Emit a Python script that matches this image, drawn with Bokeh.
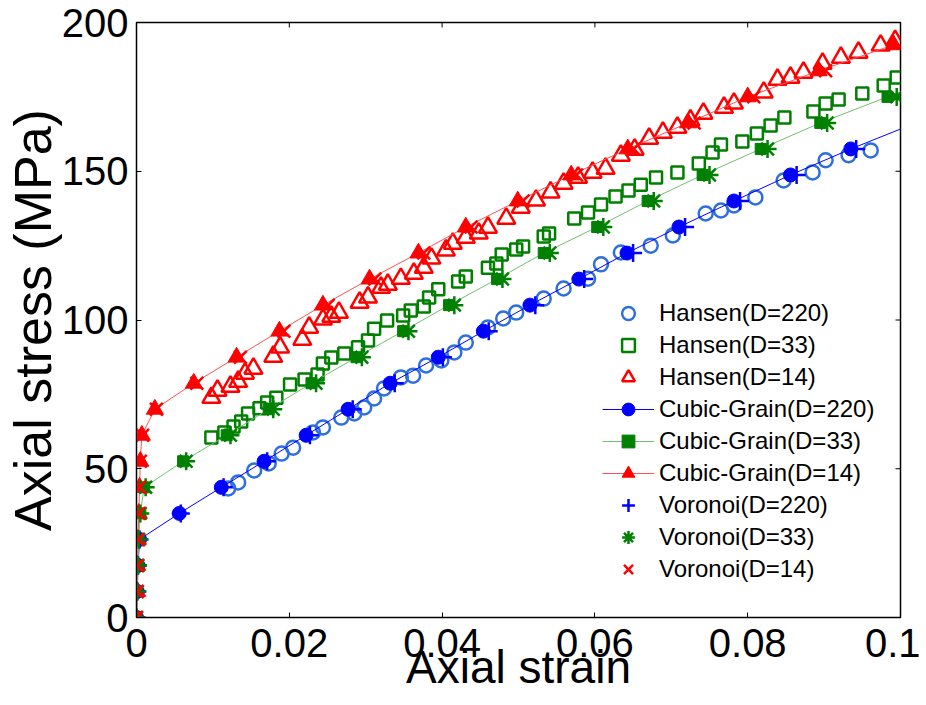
from bokeh.plotting import figure
from bokeh.models import Range1d, FixedTicker, NumeralTickFormatter
from bokeh.embed import file_html
from bokeh.resources import INLINE

# ---------------- data ----------------
# Hansen experimental data
hansen220_strain = [0.0120, 0.0133, 0.0154, 0.0173, 0.0190, 0.0205, 0.0231, 0.0244, 0.0268, 0.0285,
                    0.0298, 0.0311, 0.0324, 0.0346, 0.0362, 0.0379, 0.0399, 0.0416, 0.0431, 0.0460,
                    0.0480, 0.0497, 0.0533, 0.0559, 0.0591, 0.0608, 0.0634, 0.0673, 0.0702, 0.0745,
                    0.0765, 0.0782, 0.0810, 0.0847, 0.0885, 0.0902, 0.0932, 0.0961]
hansen220_stress = [43.4, 45.4, 49.4, 51.8, 55.1, 57.1, 62.2, 63.9, 67.2, 68.6,
                    70.6, 73.6, 77.0, 80.7, 81.3, 84.7, 86.4, 89.1, 92.4, 97.5,
                    100.5, 102.5, 107.2, 110.6, 113.9, 118.7, 122.7, 125.0, 128.4, 135.8,
                    136.8, 138.5, 141.2, 146.9, 149.6, 153.7, 155.4, 157.0]

hansen33_strain = [0.0098, 0.0115, 0.0127, 0.0137, 0.0146, 0.0161, 0.0171, 0.0183, 0.0201, 0.0220,
                   0.0237, 0.0244, 0.0255, 0.0272, 0.0290, 0.0303, 0.0311, 0.0328, 0.0349, 0.0359,
                   0.0376, 0.0383, 0.0395, 0.0421, 0.0431, 0.0460, 0.0471, 0.0478, 0.0497, 0.0506,
                   0.0533, 0.0540, 0.0573, 0.0591, 0.0608, 0.0627, 0.0644, 0.0660, 0.0680, 0.0708,
                   0.0736, 0.0754, 0.0765, 0.0793, 0.0812, 0.0830, 0.0848, 0.0886, 0.0902, 0.0919,
                   0.0950, 0.0978, 0.0995]
hansen33_stress = [60.5, 62.2, 64.2, 65.9, 68.6, 70.3, 72.3, 73.9, 78.3, 80.0,
                   81.7, 85.4, 87.4, 88.7, 90.8, 93.1, 97.1, 99.8, 101.5, 103.2,
                   104.5, 107.6, 110.3, 112.9, 114.6, 117.6, 119.0, 122.0, 123.7, 124.7,
                   128.1, 129.1, 134.1, 136.1, 138.8, 141.5, 143.5, 145.5, 147.9, 149.6,
                   152.6, 156.3, 159.0, 160.0, 162.7, 165.4, 168.1, 170.1, 172.8, 174.1,
                   176.1, 178.8, 181.5]

hansen14_strain = [0.0098, 0.0106, 0.0123, 0.0133, 0.0142, 0.0153, 0.0179, 0.0188, 0.0217, 0.0226,
                   0.0244, 0.0255, 0.0265, 0.0292, 0.0303, 0.0320, 0.0329, 0.0346, 0.0363, 0.0376,
                   0.0386, 0.0405, 0.0414, 0.0431, 0.0448, 0.0460, 0.0484, 0.0503, 0.0523, 0.0542,
                   0.0559, 0.0578, 0.0597, 0.0614, 0.0634, 0.0652, 0.0671, 0.0689, 0.0708, 0.0725,
                   0.0742, 0.0769, 0.0782, 0.0821, 0.0839, 0.0856, 0.0873, 0.0898, 0.0922, 0.0945,
                   0.0974, 0.0993]
hansen14_stress = [73.9, 76.3, 77.6, 79.3, 82.0, 83.7, 87.7, 90.8, 93.4, 97.5,
                   100.2, 101.2, 102.5, 105.9, 107.6, 110.9, 111.9, 113.9, 115.6, 117.6,
                   120.7, 123.4, 125.7, 127.7, 129.1, 131.1, 134.1, 137.8, 140.2, 142.9,
                   145.9, 147.9, 149.6, 150.9, 155.3, 157.3, 161.0, 163.0, 164.7, 167.1,
                   169.4, 171.4, 172.8, 176.5, 180.8, 181.5, 183.2, 186.2, 188.2, 189.9,
                   192.3, 193.9]

# Cubic-Grain simulations
cubic220_strain = [0, 0.0001, 0.0002, 0.0004, 0.0056, 0.0111, 0.0167, 0.0222, 0.0277, 0.0332,
                   0.0395, 0.0454, 0.0515, 0.0579, 0.0642, 0.0710, 0.0782, 0.0856, 0.0935, 0.1020]
cubic220_stress = [0, 8.75, 17.5, 26.25, 35, 43.75, 52.5, 61.25, 70, 78.75,
                   87.5, 96.25, 105, 113.75, 122.5, 131.25, 140, 148.75, 157.5, 166.25]

cubic33_strain = [0, 0.0001, 0.0002, 0.0003, 0.0005, 0.0010, 0.0061, 0.0118, 0.0173, 0.0229, 0.0288,
                  0.0349, 0.0409, 0.0472, 0.0533, 0.0603, 0.0669, 0.0741, 0.0817, 0.0895, 0.0983, 0.1070]
cubic33_stress = [0, 8.75, 17.5, 26.25, 35, 43.75, 52.5, 61.25, 70, 78.75, 87.5,
                  96.25, 105, 113.75, 122.5, 131.25, 140, 148.75, 157.5, 166.25, 175, 183.75]

cubic14_strain = [0, 0.0001, 0.0001, 0.0002, 0.0003, 0.0004, 0.0005, 0.0007, 0.0024, 0.0075, 0.0131, 0.0187,
                  0.0244, 0.0305, 0.0369, 0.0431, 0.0499, 0.0569, 0.0643, 0.0722, 0.0800, 0.0893, 0.0991]
cubic14_stress = [0, 8.75, 17.5, 26.25, 35, 43.75, 52.5, 61.25, 70, 78.75, 87.5, 96.25,
                  105, 113.75, 122.5, 131.25, 140, 148.75, 157.5, 166.25, 175, 183.75, 192.5]

# Voronoi simulations
vor220_strain = [0, 0.0001, 0.0002, 0.0004, 0.0058, 0.0114, 0.0171, 0.0227, 0.0283, 0.0338,
                 0.0401, 0.0461, 0.0522, 0.0586, 0.0650, 0.0718, 0.0790, 0.0864, 0.0942]
vor220_stress = [0, 8.75, 17.5, 26.25, 35, 43.75, 52.5, 61.25, 70, 78.75,
                 87.5, 96.25, 105, 113.75, 122.5, 131.25, 140, 148.75, 157.5]

vor33_strain = [0, 0.0001, 0.0002, 0.0003, 0.0005, 0.0012, 0.0065, 0.0123, 0.0179, 0.0235, 0.0295,
                0.0356, 0.0416, 0.0479, 0.0541, 0.0611, 0.0677, 0.0750, 0.0826, 0.0904, 0.0995]
vor33_stress = [0, 8.75, 17.5, 26.25, 35, 43.75, 52.5, 61.25, 70, 78.75, 87.5,
                96.25, 105, 113.75, 122.5, 131.25, 140, 148.75, 157.5, 166.25, 175]

vor14_strain = [0, 0.0001, 0.0001, 0.0002, 0.0003, 0.0004, 0.0005, 0.0008, 0.0026, 0.0079, 0.0136,
                0.0193, 0.0251, 0.0312, 0.0376, 0.0438, 0.0506, 0.0576, 0.0651, 0.0730, 0.0808, 0.0902]
vor14_stress = [0, 8.75, 17.5, 26.25, 35, 43.75, 52.5, 61.25, 70, 78.75, 87.5,
                96.25, 105, 113.75, 122.5, 131.25, 140, 148.75, 157.5, 166.25, 175, 183.75]

x_ticks = [0, 0.02, 0.04, 0.06, 0.08, 0.1]
y_ticks = [0, 50, 100, 150, 200]

# ---------------- figure ----------------
FONT = "Liberation Sans"
BLUE = "#0000ff"
LBLUE = "#2e6fe0"
GREEN = "#008000"
RED = "#ff0000"
X0, X1, Y0, Y1 = 0, 0.1, 0, 200

p = figure(width=920, height=705, output_backend="svg", toolbar_location=None,
           x_range=Range1d(X0, X1), y_range=Range1d(Y0, Y1),
           min_border_left=135, min_border_right=20, min_border_top=22, min_border_bottom=88)
p.background_fill_color = "white"
p.border_fill_color = "white"
p.outline_line_color = "black"
p.outline_line_width = 1.5
p.xgrid.visible = False
p.ygrid.visible = False

for ax, ticks, fmt in ((p.xaxis[0], x_ticks, "0.[00]"), (p.yaxis[0], y_ticks, "0")):
    ax.ticker = FixedTicker(ticks=ticks)
    ax.formatter = NumeralTickFormatter(format=fmt)
    ax.major_label_text_font = FONT
    ax.major_label_text_font_size = "40px"
    ax.major_label_text_color = "black"
    ax.axis_label_text_font = FONT
    ax.axis_label_text_font_style = "normal"
    ax.axis_label_text_color = "black"
    ax.major_tick_in = 5
    ax.major_tick_out = 0
    ax.minor_tick_line_color = None
    ax.axis_line_color = "black"
    ax.major_tick_line_color = "black"
    ax.major_label_standoff = 8

p.xaxis.major_label_standoff = 11
p.xaxis.axis_label = "Axial strain"
p.xaxis.axis_label_text_font_size = "46px"
p.xaxis.axis_label_standoff = -19
p.yaxis.axis_label = "Axial stress (MPa)"
p.yaxis.axis_label_text_font_size = "52px"
p.yaxis.axis_label_standoff = -3

# mirrored inward ticks on the top and right edges (tick length ~5px)
tick_dy = (Y1 - Y0) * 5 / 595
tick_dx = (X1 - X0) * 5 / 765
p.segment(x0=x_ticks, y0=[Y1] * len(x_ticks), x1=x_ticks, y1=[Y1 - tick_dy] * len(x_ticks),
          line_color="black", line_width=1)
p.segment(x0=[X1] * len(y_ticks), y0=y_ticks, x1=[X1 - tick_dx] * len(y_ticks), y1=y_ticks,
          line_color="black", line_width=1)

# Hansen (hollow markers)
p.scatter(hansen220_strain, hansen220_stress, marker="circle", size=14, fill_color=None,
          line_color=LBLUE, line_width=2.5, legend_label="Hansen(D=220)")
p.scatter(hansen33_strain, hansen33_stress, marker="square", size=12, fill_color=None,
          line_color=GREEN, line_width=2.5, legend_label="Hansen(D=33)")
p.scatter(hansen14_strain, hansen14_stress, marker="triangle", size=18, fill_color=None,
          line_color=RED, line_width=2.5, legend_label="Hansen(D=14)")

# Cubic-Grain (line + filled markers)
p.line(cubic220_strain, cubic220_stress, line_color=BLUE, line_width=1, legend_label="Cubic-Grain(D=220)")
p.scatter(cubic220_strain, cubic220_stress, marker="circle", size=14, fill_color=BLUE,
          line_color=BLUE, legend_label="Cubic-Grain(D=220)")
p.line(cubic33_strain, cubic33_stress, line_color="#70c070", line_width=1, legend_label="Cubic-Grain(D=33)")
p.scatter(cubic33_strain, cubic33_stress, marker="square", size=11, fill_color=GREEN,
          line_color=GREEN, legend_label="Cubic-Grain(D=33)")
p.line(cubic14_strain, cubic14_stress, line_color="#ff5050", line_width=1, legend_label="Cubic-Grain(D=14)")
p.scatter(cubic14_strain, cubic14_stress, marker="triangle", size=17, fill_color=RED,
          line_color=RED, legend_label="Cubic-Grain(D=14)")

# Voronoi
p.scatter(vor220_strain, vor220_stress, marker="cross", size=18, line_color=BLUE,
          line_width=2.5, legend_label="Voronoi(D=220)")
p.scatter(vor33_strain, vor33_stress, marker="asterisk", size=18, line_color=GREEN,
          line_width=2.5, legend_label="Voronoi(D=33)")
p.scatter(vor14_strain, vor14_stress, marker="x", size=18, line_color=RED,
          line_width=2.5, legend_label="Voronoi(D=14)")

lg = p.legend[0]
lg.location = (466, 32)
lg.padding = 0
lg.margin = 0
lg.spacing = 0
lg.glyph_width = 52
lg.glyph_height = 32
lg.label_height = 32
lg.label_standoff = 5
lg.label_text_font = FONT
lg.label_text_font_size = "24px"
lg.label_text_color = "black"
lg.border_line_alpha = 0
lg.background_fill_alpha = 0

open("out.html", "w").write(file_html(p, INLINE))
